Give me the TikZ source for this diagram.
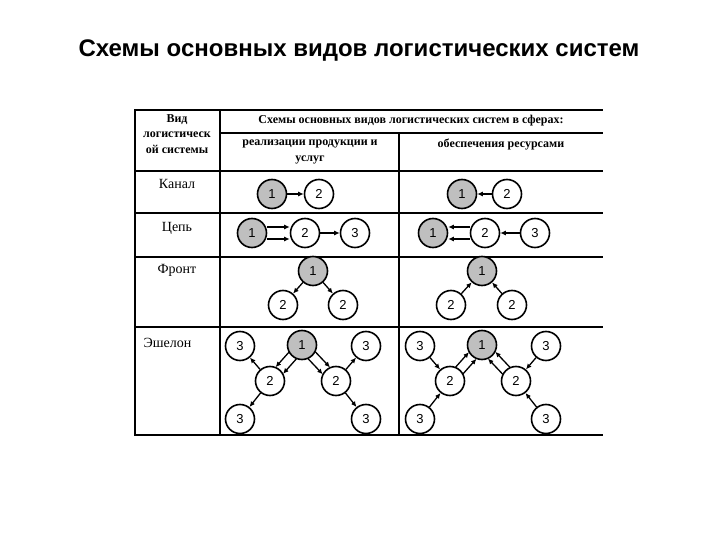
\documentclass[tikz,border=0pt]{standalone}
\usepackage{fontspec}
\setmainfont{Liberation Serif}
\newfontfamily\arialfont{Liberation Sans}
\usetikzlibrary{arrows.meta, calc}
\tikzset{
  >={Latex[length=5.5pt, width=5pt]},
  rule/.style={line width=2pt, line cap=rect},
  unit/.style={circle, draw, line width=1.6pt, minimum size=29pt, inner sep=0pt, fill=white,
    font=\arialfont\fontsize{13}{13}\selectfont},
  root/.style={unit, fill=black!25},
  flow/.style={->, line width=1.3pt},
  twin/.style={flow, shorten <=14pt, shorten >=14pt},
  head/.style={font=\bfseries\fontsize{12}{15.5}\selectfont, align=center},
  kind/.style={font=\fontsize{14}{16}\selectfont},
}

\begin{document}
\begin{tikzpicture}[x=1pt, y=-1pt]
  \useasboundingbox (0,0) rectangle (720,540);

  \node[font=\arialfont\bfseries\fontsize{24}{28}\selectfont] (title) at (359,51)
    {Схемы основных видов логистических систем};

  % The table rules.
  \draw[rule] (135,110) -- (602,110);
  \draw[rule] (220,133) -- (602,133);
  \foreach \y in {171,213,257,327,435}
    \draw[rule] (135,\y) -- (602,\y);
  \draw[rule] (135,110) -- (135,435);
  \draw[rule] (220,110) -- (220,435);
  \draw[rule] (399,133) -- (399,435);

  % Headings.
  \node[head] (hkind) at (177,134) {Вид\\логистическ\\ой системы};
  \node[head] (hall) at (411,121) {Схемы основных видов логистических систем в сферах:};
  \node[head] (hsale) at (310,152) {реализации продукции и\\услуг};
  \node[head] (hsupply) at (501,145) {обеспечения ресурсами};

  \node[kind] (kanal) at (177,184) {Канал};
  \node[kind] (chain) at (177,228) {Цепь};
  \node[kind] (front) at (177,270) {Фронт};
  \node[kind, anchor=west] (echelon) at (140,343) {Эшелон};

  % Канал.
  \node[root] (k1a) at (272,194) {1};
  \node[unit] (k2a) at (319,194) {2};
  \draw[flow] (k1a) -- (k2a);
  \node[root] (k1b) at (462,194) {1};
  \node[unit] (k2b) at (507,194) {2};
  \draw[flow] (k2b) -- (k1b);

  % Цепь.
  \node[root] (c1a) at (252,233) {1};
  \node[unit] (c2a) at (305,233) {2};
  \node[unit] (c3a) at (355,233) {3};
  \draw[flow] ([yshift=-6pt]c1a.east) -- ([yshift=-6pt]c2a.west);
  \draw[flow] ([yshift=6pt]c1a.east) -- ([yshift=6pt]c2a.west);
  \draw[flow] (c2a) -- (c3a);
  \node[root] (c1b) at (433,233) {1};
  \node[unit] (c2b) at (485,233) {2};
  \node[unit] (c3b) at (535,233) {3};
  \draw[flow] ([yshift=-6pt]c2b.west) -- ([yshift=-6pt]c1b.east);
  \draw[flow] ([yshift=6pt]c2b.west) -- ([yshift=6pt]c1b.east);
  \draw[flow] (c3b) -- (c2b);

  % Фронт.
  \node[root] (f1a) at (313,271) {1};
  \node[unit] (f2la) at (283,305) {2};
  \node[unit] (f2ra) at (343,305) {2};
  \draw[flow] (f1a) -- (f2la);
  \draw[flow] (f1a) -- (f2ra);
  \node[root] (f1b) at (482,271) {1};
  \node[unit] (f2lb) at (451,305) {2};
  \node[unit] (f2rb) at (512,305) {2};
  \draw[flow] (f2lb) -- (f1b);
  \draw[flow] (f2rb) -- (f1b);

  % Эшелон, sales side.
  \node[root] (e1a) at (302,345) {1};
  \node[unit] (e2la) at (270,381) {2};
  \node[unit] (e2ra) at (336,381) {2};
  \node[unit] (e3tla) at (240,346) {3};
  \node[unit] (e3bla) at (240,419) {3};
  \node[unit] (e3tra) at (366,346) {3};
  \node[unit] (e3bra) at (366,419) {3};
  \draw[twin] ($(e1a)!5pt!90:(e2la)$) -- ($(e2la)!5pt!-90:(e1a)$);
  \draw[twin] ($(e1a)!5pt!-90:(e2la)$) -- ($(e2la)!5pt!90:(e1a)$);
  \draw[twin] ($(e1a)!5pt!90:(e2ra)$) -- ($(e2ra)!5pt!-90:(e1a)$);
  \draw[twin] ($(e1a)!5pt!-90:(e2ra)$) -- ($(e2ra)!5pt!90:(e1a)$);
  \draw[flow] (e2la) -- (e3tla);
  \draw[flow] (e2la) -- (e3bla);
  \draw[flow] (e2ra) -- (e3tra);
  \draw[flow] (e2ra) -- (e3bra);

  % Эшелон, supply side.
  \node[root] (e1b) at (482,345) {1};
  \node[unit] (e2lb) at (450,381) {2};
  \node[unit] (e2rb) at (516,381) {2};
  \node[unit] (e3tlb) at (420,346) {3};
  \node[unit] (e3blb) at (420,419) {3};
  \node[unit] (e3trb) at (546,346) {3};
  \node[unit] (e3brb) at (546,419) {3};
  \draw[twin] ($(e2lb)!5pt!90:(e1b)$) -- ($(e1b)!5pt!-90:(e2lb)$);
  \draw[twin] ($(e2lb)!5pt!-90:(e1b)$) -- ($(e1b)!5pt!90:(e2lb)$);
  \draw[twin] ($(e2rb)!5pt!90:(e1b)$) -- ($(e1b)!5pt!-90:(e2rb)$);
  \draw[twin] ($(e2rb)!5pt!-90:(e1b)$) -- ($(e1b)!5pt!90:(e2rb)$);
  \draw[flow] (e3tlb) -- (e2lb);
  \draw[flow] (e3blb) -- (e2lb);
  \draw[flow] (e3trb) -- (e2rb);
  \draw[flow] (e3brb) -- (e2rb);
\end{tikzpicture}
\end{document}
